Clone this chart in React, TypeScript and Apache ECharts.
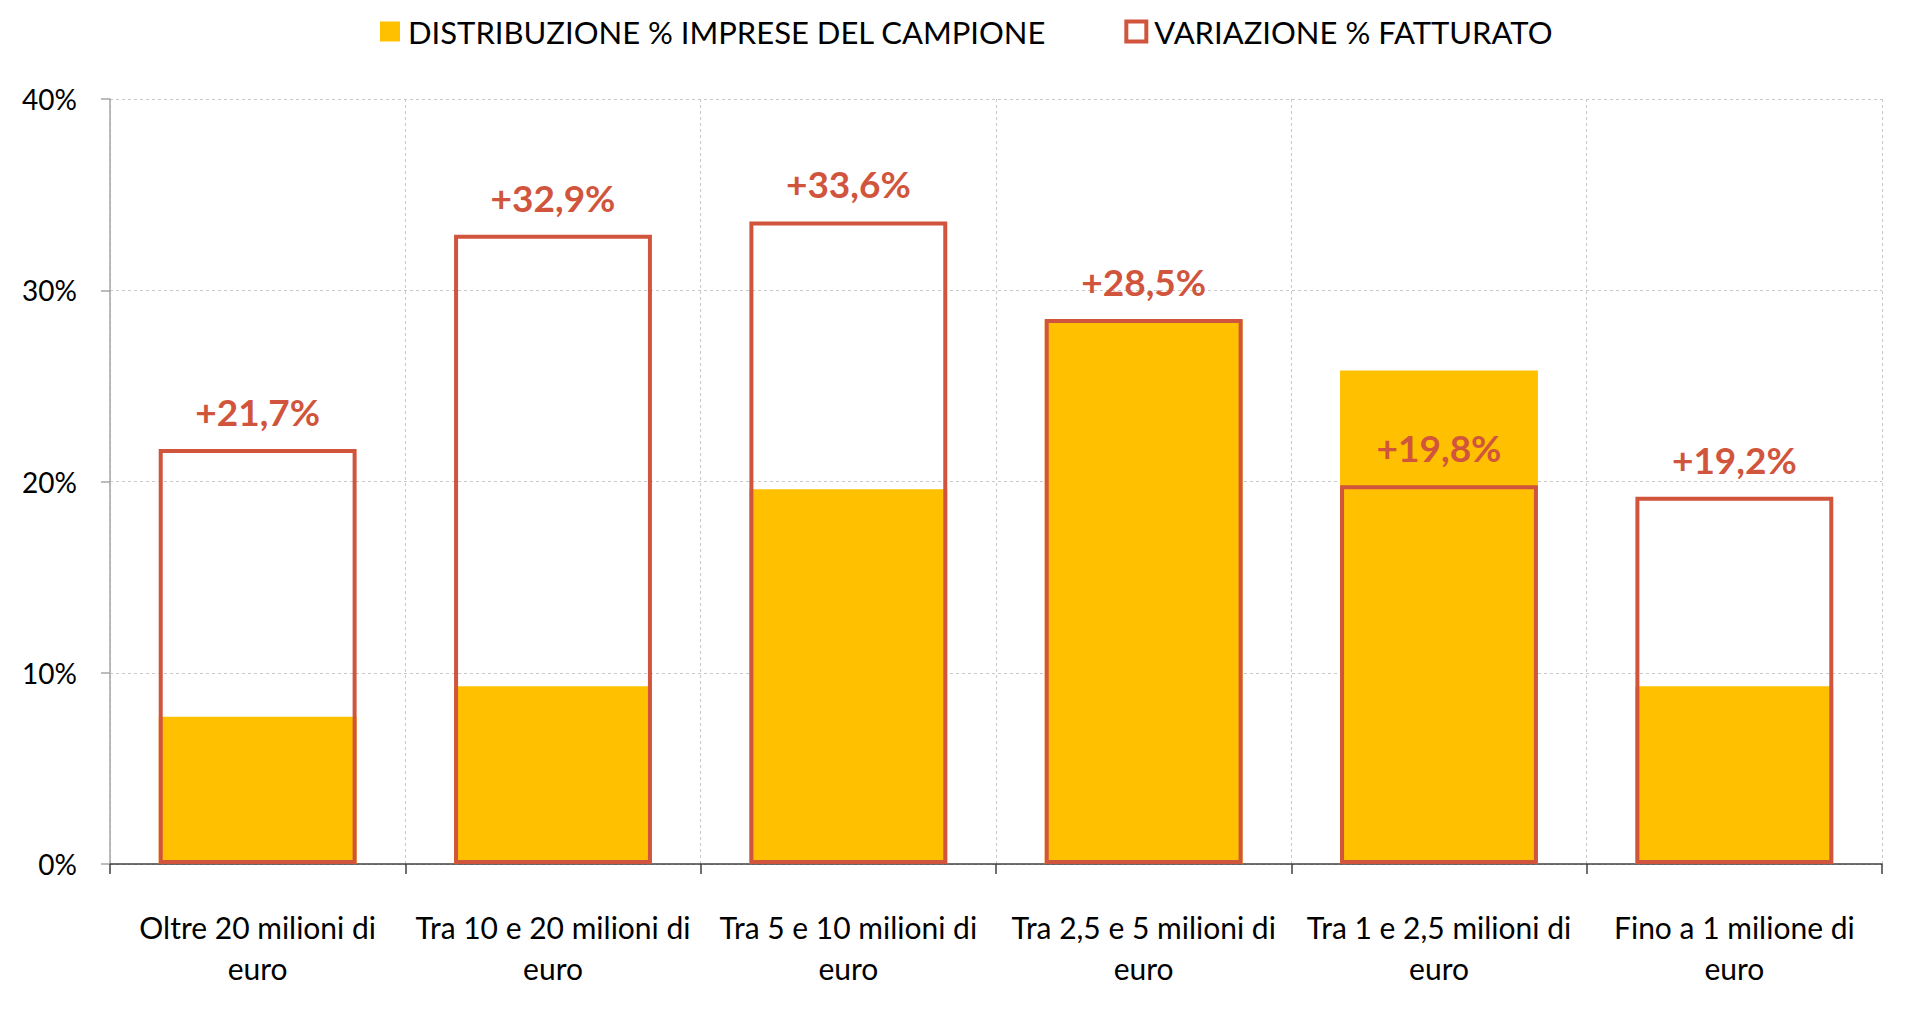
import React, { useEffect, useRef } from "react";
import * as echarts from "echarts";

const categories = [
  "Oltre 20 milioni di euro",
  "Tra 10 e 20 milioni di euro",
  "Tra 5 e 10 milioni di euro",
  "Tra 2,5 e 5 milioni di euro",
  "Tra 1 e 2,5 milioni di euro",
  "Fino a 1 milione di euro",
];
const distribuzione = [7.7, 9.3, 19.6, 28.4, 25.8, 9.3];
const variazione = [21.7, 32.9, 33.6, 28.5, 19.8, 19.2];
const seriesNames = ["DISTRIBUZIONE % IMPRESE DEL CAMPIONE", "VARIAZIONE % FATTURATO"];
const yMin = 0;
const yMax = 40;
const yStep = 10;

const FONT = "Lato, 'Liberation Sans', Arial, sans-serif";
const YELLOW = "#FFC000";
const RED = "#D0553C";

export default function App() {
  const ref = useRef<HTMLDivElement>(null);

  useEffect(() => {
    if (!ref.current) return;
    const chart = echarts.init(ref.current, undefined, { renderer: "svg" });
    chart.setOption({
      animation: false,
      backgroundColor: "#ffffff",
      textStyle: { fontFamily: FONT },
      legend: {
        left: 375,
        top: 11,
        itemWidth: 20,
        itemHeight: 20,
        itemGap: 78,
        selectedMode: false,
        icon: "rect",
        textStyle: { fontFamily: FONT, fontSize: 31, color: "#000", padding: [0, 0, 0, 3] },
        data: [
          { name: seriesNames[0], itemStyle: { color: YELLOW, borderWidth: 0 } },
          { name: seriesNames[1], itemStyle: { color: "#ffffff", borderColor: RED, borderWidth: 4 } },
        ],
      },
      grid: { left: 110, right: 38, top: 99, bottom: 147, containLabel: false },
      xAxis: {
        type: "category",
        data: categories,
        boundaryGap: true,
        axisLine: { show: true, lineStyle: { color: "#404040", width: 1.5 } },
        axisTick: { show: true, length: 10, interval: 0, lineStyle: { color: "#404040", width: 1.5 } },
        splitLine: { show: true, interval: 0, lineStyle: { color: "#C8C8C8", type: [3, 3], width: 1 } },
        axisLabel: {
          interval: 0,
          margin: 42,
          fontFamily: FONT,
          fontSize: 30,
          color: "#000",
          lineHeight: 41,
          formatter: (v: string) => v.replace(/ euro$/, "\neuro"),
        },
      },
      yAxis: {
        type: "value",
        min: yMin,
        max: yMax,
        interval: yStep,
        axisLine: { show: true, lineStyle: { color: "#A6A6A6", width: 1.5 } },
        axisTick: { show: true, length: 9, lineStyle: { color: "#A6A6A6", width: 1.5 } },
        splitLine: { show: true, lineStyle: { color: "#C8C8C8", type: [3, 3], width: 1 } },
        axisLabel: {
          margin: 33,
          fontFamily: FONT,
          fontSize: 28,
          color: "#000",
          formatter: (v: number) => `${v}%`,
        },
      },
      series: [
        {
          name: seriesNames[0],
          type: "bar",
          data: distribuzione,
          barWidth: "67%",
          barGap: "-100%",
          z: 2,
          itemStyle: { color: YELLOW },
        },
        {
          name: seriesNames[1],
          type: "bar",
          data: variazione,
          barWidth: "67%",
          barGap: "-100%",
          z: 3,
          itemStyle: { color: "rgba(255,255,255,0)", borderColor: RED, borderWidth: 4 },
          label: {
            show: true,
            position: "top",
            distance: 19,
            fontFamily: FONT,
            fontSize: 37,
            fontWeight: "bold",
            color: RED,
            formatter: (p: any) => `+${Number(p.value).toFixed(1).replace(".", ",")}%`,
          },
        },
      ],
    });
    return () => chart.dispose();
  }, []);

  return (
    <div
      ref={ref}
      style={{ position: "fixed", left: 0, top: 0, width: 1920, height: 1011, background: "#fff" }}
    />
  );
}
